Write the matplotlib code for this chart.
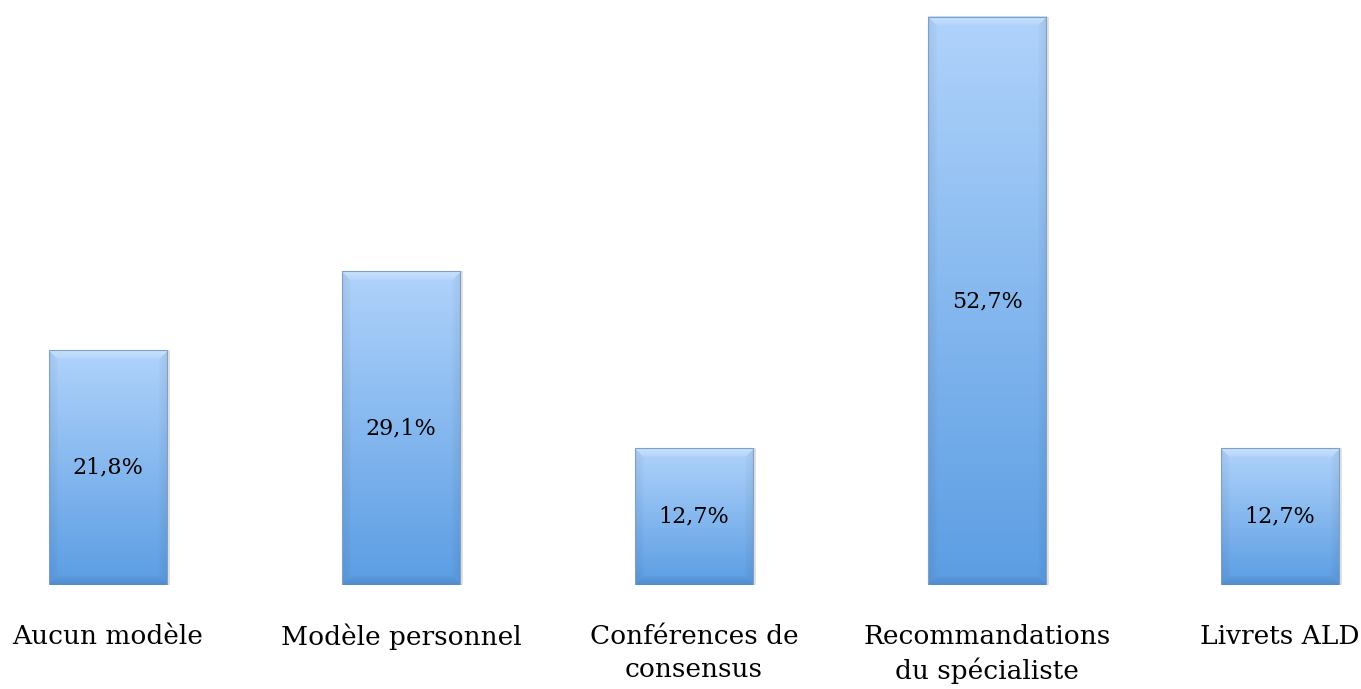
import numpy as np
import matplotlib
matplotlib.use("Agg")
import matplotlib.pyplot as plt

categories = ["Aucun modèle", "Modèle personnel", "Conférences de\nconsensus",
              "Recommandations\ndu spécialiste", "Livrets ALD"]
values = [21.8, 29.1, 12.7, 52.7, 12.7]
value_labels = ["21,8%", "29,1%", "12,7%", "52,7%", "12,7%"]

W, H = 1361, 689
PX_PER_UNIT = 10.778
fig = plt.figure(figsize=(W / 100, H / 100), dpi=100)
ax = fig.add_axes([0, (H - 585) / H, 1, 585 / H])
x = np.arange(len(categories))
ax.set_xlim(-108 / 293, 4 + (W - 1280) / 293)
ax.set_ylim(0, 585 / PX_PER_UNIT)

bars = ax.bar(x, values, width=0.405, color="none", edgecolor="none", zorder=2)

top_c = np.array([0xB0, 0xD3, 0xFB]) / 255
bot_c = np.array([0x5B, 0x9D, 0xE3]) / 255
for b in bars:
    x0, y0 = b.get_x(), b.get_y()
    w, h = b.get_width(), b.get_height()
    wp = 119
    hp = int(round(h * PX_PER_UNIT))
    py, px = np.mgrid[0:hp, 0:wp].astype(float)
    t = (py / max(hp - 1, 1))[..., None]
    img = top_c * (1 - t) + bot_c * t
    dl, dr = px, wp - 1 - px
    dt, db = py, hp - 1 - py
    d = np.stack([dt, db, dl, dr])
    nearest = np.argmin(d, axis=0)
    mind = np.min(d, axis=0)
    bev = 9.0
    inb = np.clip(1 - mind / bev, 0, 1) ** 0.6
    f_top = (nearest == 0) * inb
    f_bot = (nearest == 1) * inb
    f_side = ((nearest == 2) | (nearest == 3)) * inb
    img = img + (1 - img) * (0.30 * f_top)[..., None]
    img = img * (1 - 0.10 * f_bot)[..., None]
    img = img * (1 - 0.06 * f_side)[..., None]
    img = np.clip(img, 0, 1)
    ax.add_patch(plt.Rectangle((x0 + 0.008, y0), w, h, color="#bdbdbd", alpha=0.45, zorder=1, lw=0))
    ax.imshow(img, extent=(x0, x0 + w, y0, y0 + h), aspect="auto", zorder=2,
              interpolation="bilinear")
    ax.add_patch(plt.Rectangle((x0, y0), w, h, fill=False, edgecolor="#7f9fc4", lw=0.8, zorder=3))

for xi, v, lab in zip(x, values, value_labels):
    ax.text(xi, v / 2, lab, ha="center", va="center", fontsize=16,
            family="DejaVu Serif", color="black", zorder=4)

ax.set_xticks(x)
ax.set_xticklabels(categories, fontsize=19, family="DejaVu Serif", linespacing=1.4)
ax.tick_params(axis="x", length=0, pad=28)
ax.set_yticks([])
for s in ax.spines.values():
    s.set_visible(False)
ax.set_xlim(-108 / 293, 4 + (W - 1280) / 293)
ax.set_ylim(0, 585 / PX_PER_UNIT)

fig.savefig("out.png", dpi=100)
